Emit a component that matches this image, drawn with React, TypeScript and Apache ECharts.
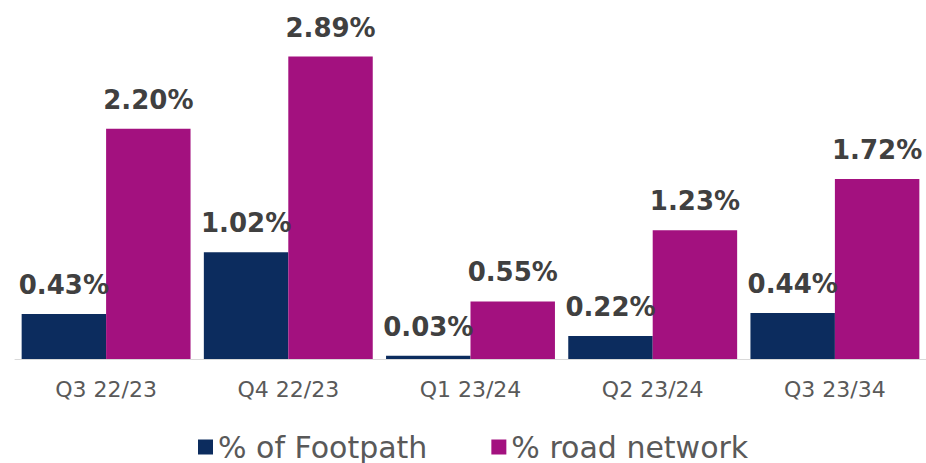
import React, { useEffect, useRef } from "react";
import * as echarts from "echarts";

const categories = ["Q3 22/23", "Q4 22/23", "Q1 23/24", "Q2 23/24", "Q3 23/34"];
const footpath = [0.43, 1.02, 0.03, 0.22, 0.44];
const roadNetwork = [2.2, 2.89, 0.55, 1.23, 1.72];
const seriesNames = ["% of Footpath", "% road network"];

export default function App() {
  const ref = useRef<HTMLDivElement>(null);
  useEffect(() => {
    if (!ref.current) return;
    const chart = echarts.init(ref.current, null, { renderer: "svg" });
    const label = {
      show: true,
      position: "top",
      distance: 16,
      fontFamily: "DejaVu Sans",
      fontWeight: "bold",
      fontSize: 26,
      color: "#404040",
      formatter: (p: any) => p.value.toFixed(2) + "%",
    };
    chart.setOption({
      animation: false,
      backgroundColor: "#ffffff",
      grid: { left: 15, right: 0, top: 45, bottom: 104, containLabel: false },
      legend: {
        left: 198,
        top: 432,
        itemWidth: 15,
        itemHeight: 15,
        itemGap: 64,
        icon: "rect",
        padding: 0,
        textStyle: {
          fontFamily: "DejaVu Sans",
          fontSize: 30,
          lineHeight: 30,
          color: "#595959",
          padding: [0, 0, 0, 0],
        },
        data: seriesNames,
      },
      xAxis: {
        type: "category",
        data: categories,
        axisLine: { show: true, lineStyle: { color: "#d9d9d9", width: 1 } },
        axisTick: { show: false },
        axisLabel: { margin: 19, fontFamily: "DejaVu Sans", fontSize: 22, color: "#595959" },
      },
      yAxis: {
        type: "value",
        min: 0,
        max: 3,
        show: false,
        splitLine: { show: false },
      },
      series: [
        {
          name: seriesNames[0],
          type: "bar",
          data: footpath,
          barGap: "0%",
          barCategoryGap: "7.3%",
          itemStyle: { color: "#0c2c5e" },
          label,
        },
        {
          name: seriesNames[1],
          type: "bar",
          data: roadNetwork,
          barGap: "0%",
          barCategoryGap: "7.3%",
          itemStyle: { color: "#a3117f" },
          label,
        },
      ],
    });
    return () => chart.dispose();
  }, []);
  return <div ref={ref} style={{ position: "absolute", left: 0, top: 0, width: 926, height: 463 }} />;
}
